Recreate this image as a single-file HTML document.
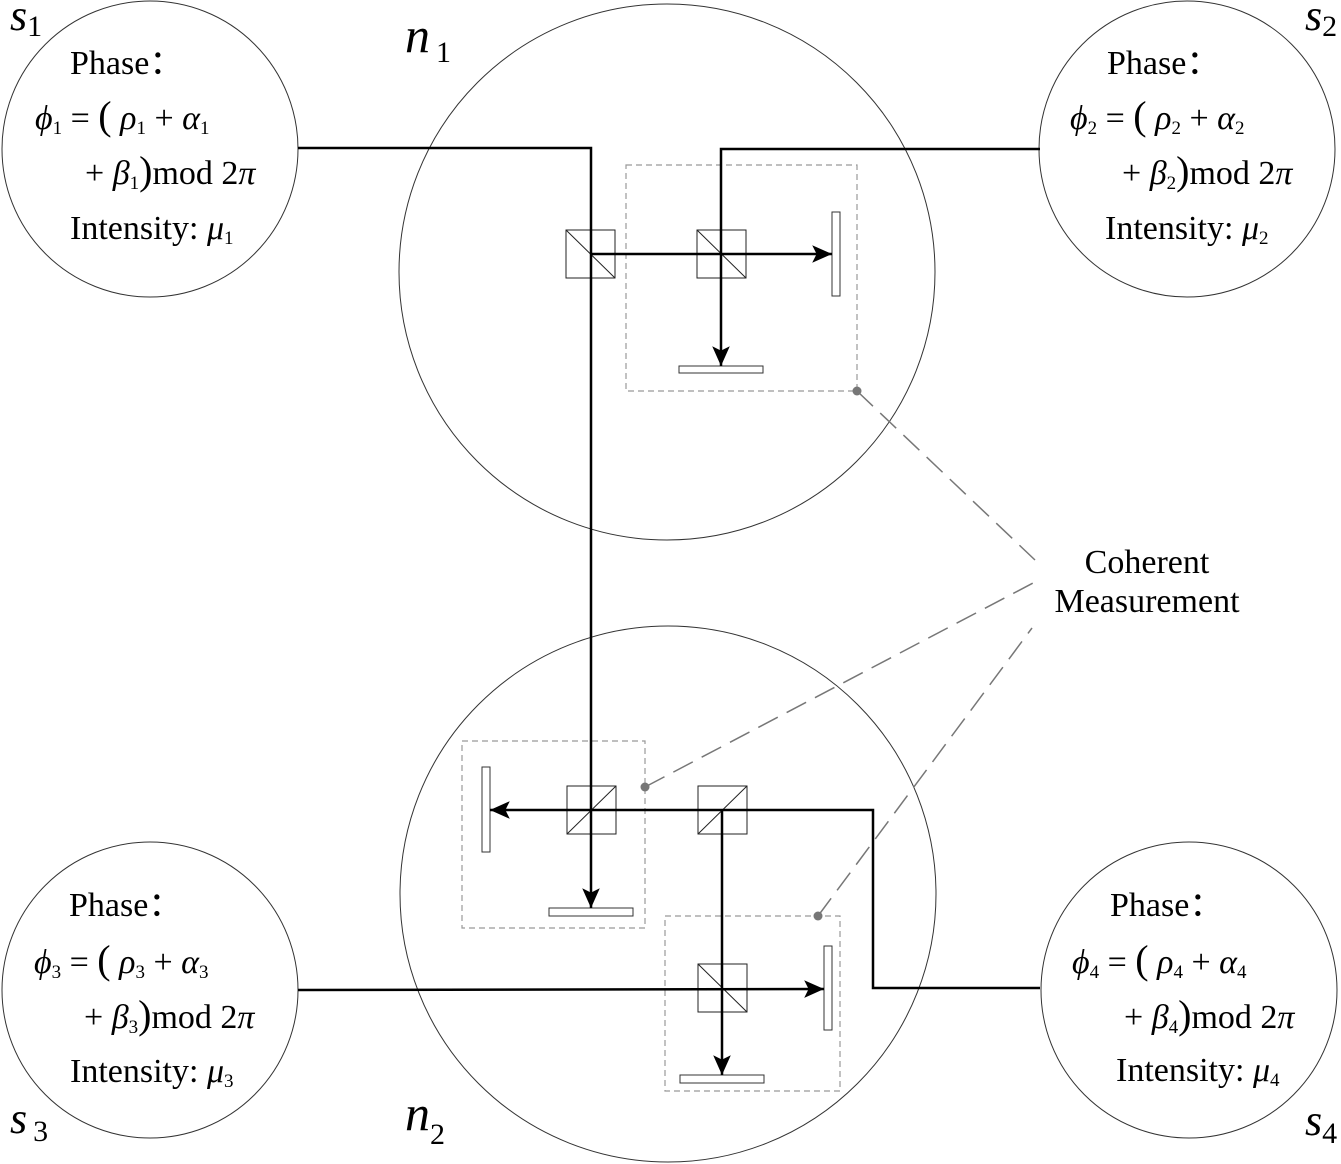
<!DOCTYPE html>
<html><head><meta charset="utf-8"><style>
html,body{margin:0;padding:0;background:#fff;}
svg{display:block;}
svg text{font-family:"Liberation Serif","DejaVu Serif",serif;fill:#000;}
.i{font-style:italic;}
</style></head><body>
<svg width="1341" height="1164" viewBox="0 0 1341 1164" xmlns="http://www.w3.org/2000/svg" font-family="Liberation Serif, DejaVu Serif, serif">
<defs>
<marker id="a2" viewBox="0 0 20 20" refX="18" refY="10" markerWidth="22" markerHeight="22" orient="auto" markerUnits="userSpaceOnUse">
<path d="M0,2 L18,10 L0,18 L4,10 Z" fill="#000"/>
</marker>
</defs>

<g fill="none" stroke="#333" stroke-width="1">
<circle cx="150" cy="149" r="148"/>
<circle cx="1187" cy="149" r="148"/>
<circle cx="150" cy="990" r="148"/>
<circle cx="1189" cy="990" r="148"/>
<circle cx="667" cy="272" r="268"/>
<circle cx="668" cy="894" r="268"/>
</g>

<g fill="none" stroke="#999" stroke-width="1.2" stroke-dasharray="6,4">
<rect x="626" y="165" width="231" height="226"/>
<rect x="462" y="741" width="183" height="187"/>
<rect x="665" y="916" width="175" height="175"/>
</g>
<g fill="none" stroke="#777" stroke-width="1.5" stroke-dasharray="22,10">
<line x1="857" y1="391" x2="1035" y2="560"/>
<line x1="645" y1="787" x2="1035" y2="582"/>
<line x1="818" y1="916" x2="1032" y2="628"/>
</g>
<g fill="#777"><circle cx="857" cy="391" r="4.5"/><circle cx="645" cy="787" r="4.5"/><circle cx="818" cy="916" r="4.5"/></g>

<g fill="none" stroke="#222" stroke-width="1">
<rect x="566" y="230" width="49" height="48"/><line x1="566" y1="230" x2="615" y2="278"/>
<rect x="697" y="230" width="49" height="48"/><line x1="697" y1="230" x2="746" y2="278"/>
<rect x="567" y="786" width="49" height="48"/><line x1="567" y1="834" x2="616" y2="786"/>
<rect x="698" y="786" width="49" height="48"/><line x1="698" y1="834" x2="747" y2="786"/>
<rect x="698" y="964" width="49" height="48"/><line x1="698" y1="964" x2="747" y2="1012"/>
</g>
<g fill="#fff" stroke="#333" stroke-width="1">
<rect x="832" y="212" width="8" height="84"/>
<rect x="679" y="366" width="84" height="7"/>
<rect x="482" y="767" width="8" height="85"/>
<rect x="549" y="908" width="84" height="8"/>
<rect x="824" y="946" width="8" height="84"/>
<rect x="680" y="1075" width="84" height="8"/>
</g>

<g fill="none" stroke="#000" stroke-width="2.5">
<polyline points="298,148 591,148 591,908" marker-end="url(#a2)"/>
<line x1="591" y1="254" x2="832" y2="254" marker-end="url(#a2)"/>
<polyline points="1040,149 721,149 721,366" marker-end="url(#a2)"/>
<polyline points="1040,988 873,988 873,810 490,810" marker-end="url(#a2)"/>
<line x1="722" y1="810" x2="722" y2="1075" marker-end="url(#a2)"/>
<line x1="298" y1="990" x2="824" y2="989" marker-end="url(#a2)"/>
</g>

<text x="10" y="30" class="i" font-size="44">s<tspan font-size="30" font-style="normal" dy="6">1</tspan></text>
<text x="1305" y="30" class="i" font-size="44">s<tspan font-size="30" font-style="normal" dy="6">2</tspan></text>
<text x="10" y="1133" class="i" font-size="44">s<tspan font-size="30" font-style="normal" dx="6" dy="8">3</tspan></text>
<text x="1305" y="1135" class="i" font-size="44">s<tspan font-size="30" font-style="normal" dy="8">4</tspan></text>
<text x="405" y="52" class="i" font-size="50">n<tspan font-size="30" font-style="normal" dx="6" dy="10">1</tspan></text>
<text x="405" y="1130" class="i" font-size="50">n<tspan font-size="30" font-style="normal" dy="14">2</tspan></text>

<text x="1147" y="573" font-size="34" text-anchor="middle">Coherent</text>
<text x="1147" y="612" font-size="34" text-anchor="middle">Measurement</text>

<g font-size="34">
<text x="70" y="74">Phase：</text>
<text x="35" y="129"><tspan class="i">ϕ</tspan><tspan font-size="19" dy="5">1</tspan><tspan dy="-5"> = </tspan><tspan font-size="40">(</tspan><tspan class="i"> ρ</tspan><tspan font-size="19" dy="5">1</tspan><tspan dy="-5"> + </tspan><tspan class="i">α</tspan><tspan font-size="19" dy="5">1</tspan></text>
<text x="85" y="184"><tspan>+ </tspan><tspan class="i">β</tspan><tspan font-size="19" dy="5">1</tspan><tspan dy="-5" font-size="40">)</tspan><tspan>mod 2</tspan><tspan class="i">π</tspan></text>
<text x="70" y="239">Intensity: <tspan class="i">μ</tspan><tspan font-size="19" dy="5">1</tspan></text>
</g>
<g font-size="34">
<text x="1107" y="74">Phase：</text>
<text x="1070" y="129"><tspan class="i">ϕ</tspan><tspan font-size="19" dy="5">2</tspan><tspan dy="-5"> = </tspan><tspan font-size="40">(</tspan><tspan class="i"> ρ</tspan><tspan font-size="19" dy="5">2</tspan><tspan dy="-5"> + </tspan><tspan class="i">α</tspan><tspan font-size="19" dy="5">2</tspan></text>
<text x="1122" y="184"><tspan>+ </tspan><tspan class="i">β</tspan><tspan font-size="19" dy="5">2</tspan><tspan dy="-5" font-size="40">)</tspan><tspan>mod 2</tspan><tspan class="i">π</tspan></text>
<text x="1105" y="239">Intensity: <tspan class="i">μ</tspan><tspan font-size="19" dy="5">2</tspan></text>
</g>
<g font-size="34">
<text x="69" y="916">Phase：</text>
<text x="34" y="973"><tspan class="i">ϕ</tspan><tspan font-size="19" dy="5">3</tspan><tspan dy="-5"> = </tspan><tspan font-size="40">(</tspan><tspan class="i"> ρ</tspan><tspan font-size="19" dy="5">3</tspan><tspan dy="-5"> + </tspan><tspan class="i">α</tspan><tspan font-size="19" dy="5">3</tspan></text>
<text x="84" y="1028"><tspan>+ </tspan><tspan class="i">β</tspan><tspan font-size="19" dy="5">3</tspan><tspan dy="-5" font-size="40">)</tspan><tspan>mod 2</tspan><tspan class="i">π</tspan></text>
<text x="70" y="1082">Intensity: <tspan class="i">μ</tspan><tspan font-size="19" dy="5">3</tspan></text>
</g>
<g font-size="34">
<text x="1110" y="916">Phase：</text>
<text x="1072" y="973"><tspan class="i">ϕ</tspan><tspan font-size="19" dy="5">4</tspan><tspan dy="-5"> = </tspan><tspan font-size="40">(</tspan><tspan class="i"> ρ</tspan><tspan font-size="19" dy="5">4</tspan><tspan dy="-5"> + </tspan><tspan class="i">α</tspan><tspan font-size="19" dy="5">4</tspan></text>
<text x="1124" y="1028"><tspan>+ </tspan><tspan class="i">β</tspan><tspan font-size="19" dy="5">4</tspan><tspan dy="-5" font-size="40">)</tspan><tspan>mod 2</tspan><tspan class="i">π</tspan></text>
<text x="1116" y="1081">Intensity: <tspan class="i">μ</tspan><tspan font-size="19" dy="5">4</tspan></text>
</g>
</svg>
</body></html>
